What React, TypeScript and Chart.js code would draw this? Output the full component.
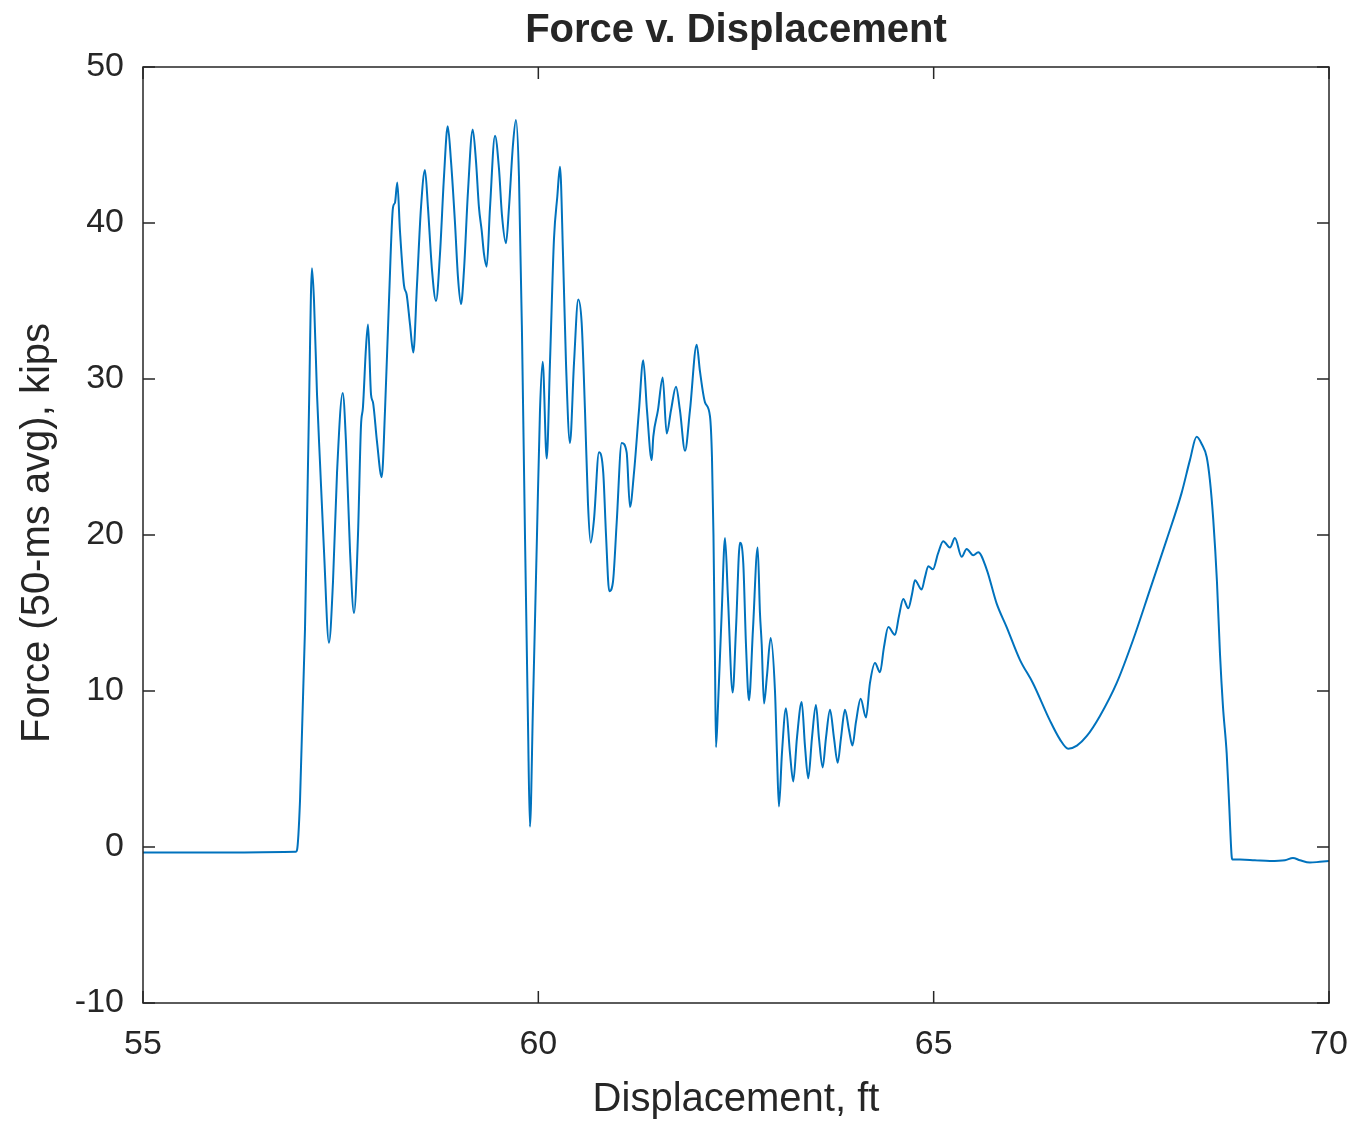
import React, { useEffect, useRef } from "react";
import { Chart, registerables } from "chart.js";

Chart.register(...registerables);

const titleText = "Force v. Displacement";
const xLabel = "Displacement, ft";
const yLabel = "Force (50-ms avg), kips";
const xTicks = [55, 60, 65, 70];
const yTicks = [-10, 0, 10, 20, 30, 40, 50];

const displacement = [
  55.0, 56.0, 56.935, 56.948, 56.986, 57.049, 57.099, 57.137, 57.163, 57.201,
  57.239, 57.289, 57.352, 57.403, 57.454, 57.526, 57.567, 57.618, 57.669, 57.719,
  57.757, 57.782, 57.82, 57.846, 57.884, 57.909, 57.959, 58.019, 58.061, 58.111,
  58.162, 58.187, 58.216, 58.25, 58.301, 58.335, 58.377, 58.419, 58.465, 58.516,
  58.566, 58.604, 58.655, 58.706, 58.756, 58.807, 58.854, 58.895, 58.946, 58.984,
  59.022, 59.06, 59.11, 59.17, 59.211, 59.249, 59.284, 59.313, 59.347, 59.389,
  59.452, 59.502, 59.54, 59.591, 59.629, 59.679, 59.717, 59.755, 59.793, 59.831,
  59.869, 59.894, 59.932, 59.983, 60.021, 60.055, 60.106, 60.147, 60.198, 60.24,
  60.274, 60.312, 60.35, 60.4, 60.451, 60.505, 60.548, 60.59, 60.628, 60.662,
  60.704, 60.767, 60.821, 60.856, 60.897, 60.944, 60.991, 61.054, 61.117, 61.159,
  61.21, 61.273, 61.327, 61.374, 61.434, 61.454, 61.513, 61.573, 61.623, 61.678,
  61.741, 61.791, 61.855, 61.918, 62.003, 62.044, 62.108, 62.171, 62.196, 62.215,
  62.234, 62.247, 62.272, 62.319, 62.361, 62.398, 62.458, 62.5, 62.55, 62.592,
  62.626, 62.664, 62.715, 62.774, 62.803, 62.825, 62.854, 62.892, 62.938, 62.993,
  63.018, 63.043, 63.081, 63.132, 63.183, 63.224, 63.271, 63.331, 63.372, 63.414,
  63.461, 63.511, 63.549, 63.596, 63.638, 63.689, 63.739, 63.786, 63.828, 63.878,
  63.929, 63.973, 64.017, 64.077, 64.144, 64.194, 64.258, 64.321, 64.371, 64.426,
  64.511, 64.561, 64.615, 64.679, 64.726, 64.763, 64.848, 64.89, 64.932, 64.991,
  65.054, 65.121, 65.206, 65.269, 65.354, 65.417, 65.501, 65.564, 65.67, 65.797,
  65.923, 66.091, 66.256, 66.471, 66.597, 66.702, 66.812, 66.935, 67.103, 67.314,
  67.524, 67.736, 67.947, 68.136, 68.241, 68.326, 68.393, 68.453, 68.494, 68.536,
  68.583, 68.621, 68.659, 68.706, 68.735, 68.769, 68.779, 68.874, 69.063, 69.253,
  69.443, 69.544, 69.633, 69.759, 69.885, 70.0,
];

const force = [
  -0.35, -0.35, -0.3, -0.2, 3, 14, 28, 37.1, 35, 29,
  24.6, 19, 13.1, 17, 24, 29.1, 26, 19, 15.0, 20,
  27, 28.2, 32, 33.5, 29, 28.5, 26, 23.7, 28, 35,
  41, 41.3, 42.6, 39.5, 36, 35.4, 33.5, 31.7, 36, 41,
  43.4, 41, 37, 35, 38, 43, 46.2, 44, 40, 36.5,
  34.8, 37, 42, 46, 44, 41, 39.5, 38, 37.2, 41,
  45.6, 43.5, 40.5, 38.7, 41, 45, 46.6, 43, 33, 20,
  8, 1.3, 9, 20, 28, 31.1, 24.9, 31, 39, 41.7,
  43.6, 38, 31, 25.9, 31, 35.1, 33.6, 28, 22, 19.5,
  21, 25.3, 24, 20, 16.4, 17, 20.8, 25.9, 25.3, 21.8,
  24, 28, 31.2, 28, 24.8, 26.3, 28, 30.1, 26.5, 28,
  29.5, 28, 25.4, 28, 32.2, 30.5, 28.5, 27.6, 25, 20,
  12, 6.4, 9, 15, 19.8, 16, 9.9, 14, 19.5, 18.2,
  13, 9.4, 14, 19.2, 15, 13, 9.2, 11, 13.4, 10,
  6, 2.6, 6, 8.9, 6, 4.2, 7, 9.3, 6.5, 4.4,
  7, 9.1, 7, 5.1, 7, 8.8, 7, 5.4, 7, 8.8,
  7.5, 6.5, 8, 9.5, 8.3, 10.5, 11.8, 11.2, 12.8, 14.1,
  13.6, 14.8, 15.9, 15.3, 16.2, 17.1, 16.5, 17.3, 18.0, 17.8,
  18.8, 19.6, 19.2, 19.8, 18.6, 19.1, 18.7, 18.9, 17.8, 15.6,
  14.1, 12.0, 10.5, 8.1, 6.9, 6.3, 6.5, 7.1, 8.4, 10.5,
  13.3, 16.5, 19.7, 22.7, 24.8, 26.3, 25.8, 25.0, 23.5, 21.0,
  17, 12.4, 9, 6.0, 3, -0.6, -0.8, -0.8, -0.85, -0.9,
  -0.85, -0.7, -0.85, -1.0, -0.95, -0.9,
];

const TEXT = "#262626";
const FONT = "'Liberation Sans', Arial, Helvetica, sans-serif";

const framePlugin = {
  id: "matlabFrame",
  afterDraw(chart: any) {
    const { ctx, chartArea } = chart;
    const xs = chart.scales.x;
    const ys = chart.scales.y;
    const { left, right, top, bottom } = chartArea;
    const tickLen = 12;
    ctx.save();
    ctx.strokeStyle = TEXT;
    ctx.lineWidth = 1.5;
    ctx.strokeRect(left, top, right - left, bottom - top);
    ctx.beginPath();
    for (const v of xTicks) {
      const px = xs.getPixelForValue(v);
      ctx.moveTo(px, bottom);
      ctx.lineTo(px, bottom - tickLen);
      ctx.moveTo(px, top);
      ctx.lineTo(px, top + tickLen);
    }
    for (const v of yTicks) {
      const py = ys.getPixelForValue(v);
      ctx.moveTo(left, py);
      ctx.lineTo(left + tickLen, py);
      ctx.moveTo(right, py);
      ctx.lineTo(right - tickLen, py);
    }
    ctx.stroke();

    ctx.fillStyle = TEXT;
    ctx.font = `34px ${FONT}`;
    ctx.textAlign = "center";
    ctx.textBaseline = "middle";
    for (const v of xTicks) {
      ctx.fillText(String(v), xs.getPixelForValue(v), bottom + 42);
    }
    ctx.textAlign = "right";
    for (const v of yTicks) {
      ctx.fillText(String(v), left - 19, ys.getPixelForValue(v));
    }

    ctx.font = `40px ${FONT}`;
    ctx.textAlign = "center";
    ctx.fillText(xLabel, (left + right) / 2, bottom + 97);

    ctx.save();
    ctx.translate(38, (top + bottom) / 2 - 2);
    ctx.rotate(-Math.PI / 2);
    ctx.fillText(yLabel, 0, 0);
    ctx.restore();

    ctx.font = `bold 40px ${FONT}`;
    ctx.fillText(titleText, (left + right) / 2, 31);
    ctx.restore();
  },
};

export default function App() {
  const ref = useRef<HTMLCanvasElement | null>(null);
  useEffect(() => {
    document.body.style.margin = "0";
    document.body.style.background = "#ffffff";
    const canvas = ref.current;
    if (!canvas) return;
    const points = displacement.map((d, i) => ({ x: d, y: force[i] }));
    const chart = new Chart(canvas, {
      type: "line",
      data: {
        datasets: [
          {
            data: points,
            borderColor: "#0072BD",
            borderWidth: 2,
            pointRadius: 0,
            fill: false,
            cubicInterpolationMode: "monotone",
          },
        ],
      },
      options: {
        responsive: false,
        animation: false,
        devicePixelRatio: 1,
        layout: { padding: { left: 143, top: 67, right: 30, bottom: 120 } },
        plugins: {
          legend: { display: false },
          title: { display: false },
          tooltip: { enabled: false },
        },
        scales: {
          x: { type: "linear", min: 55, max: 70, display: false },
          y: { type: "linear", min: -10, max: 50, display: false },
        },
      },
      plugins: [framePlugin],
    });
    return () => chart.destroy();
  }, []);
  return (
    <canvas
      ref={ref}
      width={1359}
      height={1123}
      style={{ display: "block", width: 1359, height: 1123, background: "#fff" }}
    />
  );
}
